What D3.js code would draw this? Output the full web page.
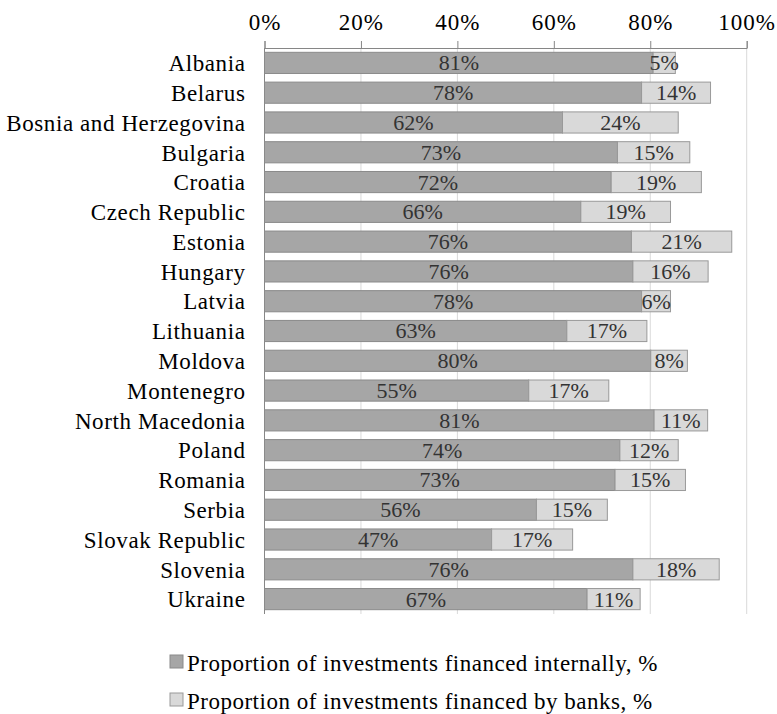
<!DOCTYPE html>
<html>
<head>
<meta charset="utf-8">
<script src="https://cdn.jsdelivr.net/npm/d3@7"></script>
<style>
  body { margin: 0; background: #fff; }
</style>
</head>
<body>
<div id="chart"></div>
<script>
const countries = ['Albania', 'Belarus', 'Bosnia and Herzegovina', 'Bulgaria', 'Croatia', 'Czech Republic',
  'Estonia', 'Hungary', 'Latvia', 'Lithuania', 'Moldova', 'Montenegro', 'North Macedonia', 'Poland',
  'Romania', 'Serbia', 'Slovak Republic', 'Slovenia', 'Ukraine'];
const internal = [80.6, 78.2, 61.8, 73.2, 71.9, 65.6, 76.1, 76.4, 78.2, 62.7, 80.1, 54.8, 80.8, 73.7, 72.7, 56.4, 47.1, 76.4, 66.9];
const banks = [4.6, 14.3, 24.0, 15.0, 18.7, 18.6, 20.8, 15.6, 6.0, 16.6, 7.6, 16.6, 11.1, 12.1, 14.6, 14.7, 16.8, 17.9, 11.0];
const ticks = [0, 20, 40, 60, 80, 100];
const seriesNames = ['Proportion of investments financed internally, %', 'Proportion of investments financed by banks, %'];

const FONT = '"Liberation Serif", "Times New Roman", serif';
const W = 777, H = 714;
const margin = { top: 48, left: 264.5 };
const width = 746.7 - margin.left;
const height = 614 - margin.top;

const svg = d3.select('#chart')
              .append('svg')
              .attr('width', W)
              .attr('height', H)
              .style('font-family', FONT);

const g = svg.append('g')
             .attr('transform', `translate(${margin.left}, ${margin.top})`);

const x = d3.scaleLinear().domain([0, 100]).range([0, width]);
const y = d3.scaleBand().domain(countries).range([0, height]).paddingInner(0.29).paddingOuter(0.145);

// gridlines
g.selectAll('.grid')
 .data(ticks.slice(1))
 .enter()
 .append('line')
 .attr('x1', d => x(d)).attr('x2', d => x(d))
 .attr('y1', 0).attr('y2', height)
 .attr('stroke', '#d9d9d9')
 .attr('stroke-width', 1);

// top axis
const xAxis = d3.axisTop(x).tickValues(ticks).tickFormat(d => d + '%').tickSizeOuter(0).tickSize(7);
const ax = g.append('g').call(xAxis).attr('font-family', null);
ax.select('.domain').attr('stroke', '#868686');
ax.selectAll('.tick line').attr('stroke', '#868686');
ax.selectAll('.tick text')
  .attr('y', -18)
  .attr('dy', 0)
  .attr('fill', '#000')
  .style('font-family', FONT)
  .style('font-size', '23px')
  .style('letter-spacing', '1px');

// left axis line
g.append('line')
 .attr('x1', 0).attr('x2', 0).attr('y1', 0).attr('y2', height)
 .attr('stroke', '#868686');

// category labels
g.selectAll('.cat')
 .data(countries)
 .enter()
 .append('text')
 .attr('x', -19)
 .attr('y', d => y(d) + y.bandwidth() / 2)
 .attr('dy', '0.36em')
 .attr('text-anchor', 'end')
 .style('font-family', FONT)
 .style('font-size', '23px')
 .style('letter-spacing', '0.6px')
 .attr('fill', '#000')
 .text(d => d);

const rows = countries.map((c, i) => ({ c, a: internal[i], b: banks[i] }));

// internal
g.selectAll('.bar-a')
 .data(rows)
 .enter()
 .append('rect')
 .attr('x', x(0))
 .attr('y', d => y(d.c))
 .attr('width', d => x(d.a) - x(0))
 .attr('height', y.bandwidth())
 .attr('fill', '#a6a6a6')
 .attr('stroke', '#8a8a8a')
 .attr('stroke-width', 1);

// banks
g.selectAll('.bar-b')
 .data(rows)
 .enter()
 .append('rect')
 .attr('x', d => x(d.a))
 .attr('y', d => y(d.c))
 .attr('width', d => x(d.a + d.b) - x(d.a))
 .attr('height', y.bandwidth())
 .attr('fill', '#d9d9d9')
 .attr('stroke', '#999999')
 .attr('stroke-width', 1);

// value labels
const lab = (sel, cx, v) => sel.append('text')
  .attr('x', cx)
  .attr('y', d => y(d.c) + y.bandwidth() / 2)
  .attr('dy', '0.34em')
  .attr('text-anchor', 'middle')
  .style('font-family', FONT)
  .style('font-size', '22px')
  .attr('fill', '#333')
  .text(d => Math.round(v(d)) + '%');

const lg = g.selectAll('.vl').data(rows).enter().append('g');
lab(lg, d => x(d.a / 2), d => d.a);
lab(lg, d => x(d.a + d.b / 2), d => d.b);

// legend
const colors = ['#a6a6a6', '#d9d9d9'];
const strokes = ['#8a8a8a', '#999999'];
const leg = svg.selectAll('.leg')
  .data(seriesNames)
  .enter()
  .append('g')
  .attr('transform', (d, i) => `translate(170, ${655 + i * 38})`);
leg.append('rect')
   .attr('width', 13).attr('height', 13)
   .attr('fill', (d, i) => colors[i])
   .attr('stroke', (d, i) => strokes[i]);
leg.append('text')
   .attr('x', 17)
   .attr('y', 15.5)
   .style('font-family', FONT)
   .style('font-size', '23px')
   .style('letter-spacing', '0.5px')
   .attr('fill', '#000')
   .text(d => d);
</script>
</body>
</html>
